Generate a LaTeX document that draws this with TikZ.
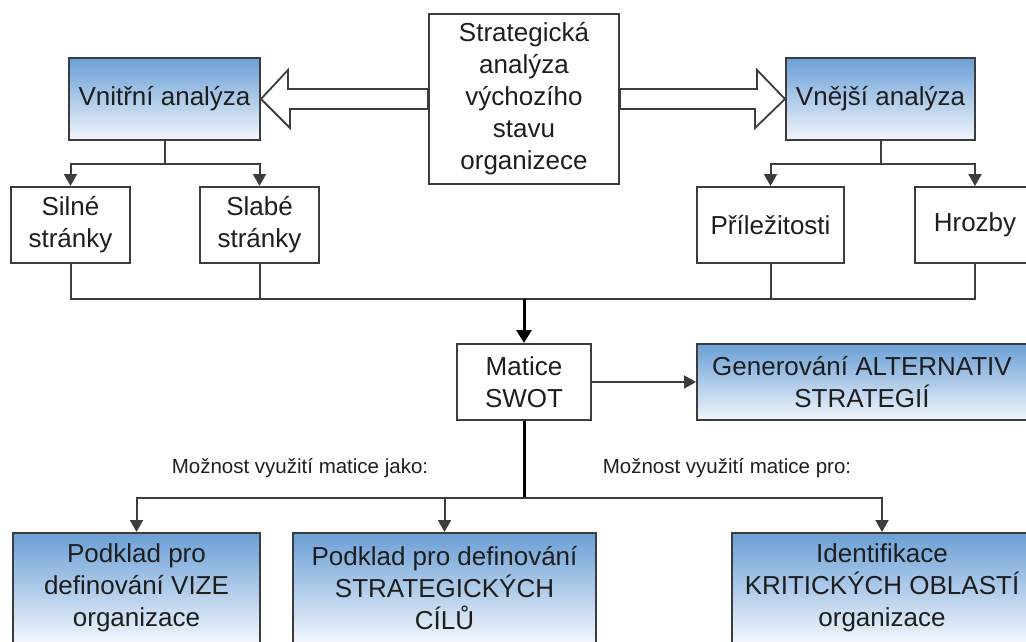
\documentclass[tikz,border=0pt]{standalone}
\usepackage{fontspec}
\setmainfont{Liberation Sans}
\usetikzlibrary{arrows.meta}
\definecolor{boxblue}{RGB}{106,159,214}
\definecolor{boxpale}{RGB}{242,246,252}
\definecolor{edgegray}{RGB}{60,60,60}
\definecolor{textgray}{RGB}{30,30,30}
\tikzset{
  box/.style={draw=edgegray, line width=2pt, fill=white, align=center, inner sep=0pt,
    text=textgray, font=\fontsize{26}{32}\selectfont},
  bluebox/.style={box, top color=boxblue, bottom color=boxpale},
  bigarrow/.style={draw=edgegray, line width=1.8pt, fill=white, line join=miter},
  line/.style={draw=edgegray, line width=2pt},
  arr/.style={line, -{Triangle[length=12pt,width=13pt]}},
  thickarr/.style={draw=black, line width=3pt, -{Triangle[length=13pt,width=15pt]}},
  lbl/.style={text=textgray, inner sep=0pt, font=\fontsize{20.5}{24}\selectfont}
}
\begin{document}
\begin{tikzpicture}[x=1pt, y=-1pt]
\useasboundingbox (0,0) rectangle (1026,642);
\clip (0,0) rectangle (1026,642);
\node[box, minimum width=190pt, minimum height=170pt] (strat) at (524,99) {Strategická\\analýza\\výchozího\\stavu\\organizece};
\node[bluebox, minimum width=191pt, minimum height=82pt] (vnitrni) at (164.5,99) {Vnitřní analýza};
\node[bluebox, minimum width=189pt, minimum height=82pt] (vnejsi) at (880.5,99) {Vnější analýza};
\node[box, minimum width=119pt, minimum height=76pt] (silne) at (70.5,225) {Silné\\stránky};
\node[box, minimum width=119pt, minimum height=76pt] (slabe) at (259.5,225) {Slabé\\stránky};
\node[box, minimum width=147pt, minimum height=76pt] (prilez) at (770.5,225) {Příležitosti};
\node[box, minimum width=120pt, minimum height=76pt] (hrozby) at (975,225) {Hrozby};
\node[box, minimum width=134pt, minimum height=76pt] (matice) at (524,382) {Matice\\SWOT};
\node[bluebox, minimum width=330pt, minimum height=76pt] (gener) at (862,382) {Generování ALTERNATIV\\STRATEGIÍ};
\node[bluebox, minimum width=247pt, minimum height=110pt] (vize) at (136.5,588) {Podklad pro\\definování VIZE\\organizace};
\node[bluebox, minimum width=303pt, minimum height=110pt] (cile) at (444.5,588) {Podklad pro definování\\STRATEGICKÝCH\\CÍLŮ};
\node[bluebox, minimum width=300pt, minimum height=110pt] (ident) at (882,588) {Identifikace\\KRITICKÝCH OBLASTÍ\\organizace};
\node[lbl] (jako) at (300,468) {Možnost využití matice jako:};
\node[lbl] (pro) at (727,468) {Možnost využití matice pro:};
\draw[bigarrow] ([yshift=10pt]strat.west) -- ++(-140,0) -- ++(0,-19) -- (vnitrni.east) -- ++(29,29) -- ++(0,-19) -- ([yshift=-10pt]strat.west) -- cycle;
\draw[bigarrow] ([yshift=10pt]strat.east) -- ++(137,0) -- ++(0,-19) -- (vnejsi.west) -- ++(-30,29) -- ++(0,-19) -- ([yshift=-10pt]strat.east) -- cycle;
\draw[line] (vnitrni.south) -- ++(0,23) coordinate (vj);
\draw[arr] (vj) -| (silne.north);
\draw[arr] (vj) -| (slabe.north);
\draw[line] (vnejsi.south) -- ++(0,23) coordinate (ej);
\draw[arr] (ej) -| (prilez.north);
\draw[arr] (ej) -| (hrozby.north);
\draw[line] (silne.south) -- ++(0,35) coordinate (sj) -| (hrozby.south);
\draw[line] (slabe.south) -- (slabe.south |- sj);
\draw[line] (prilez.south) -- (prilez.south |- sj);
\draw[thickarr] (matice.north |- sj) -- (matice.north);
\draw[arr] (matice) -- (gener);
\draw[draw=black, line width=3pt] (matice.south) -- ++(0,77) coordinate (mj);
\draw[arr] (mj) -| (vize.north);
\draw[arr] (mj) -| (ident.north);
\draw[arr] (cile.north |- mj) -- (cile.north);
\end{tikzpicture}
\end{document}
